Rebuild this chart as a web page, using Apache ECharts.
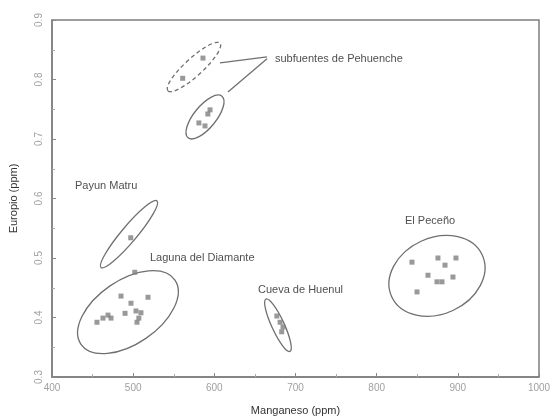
<!DOCTYPE html>
<html>
<head>
<meta charset="utf-8">
<script src="https://cdn.jsdelivr.net/npm/echarts@6/dist/echarts.min.js"></script>
<style>html,body{margin:0;padding:0;background:#fff}#c{width:552px;height:420px}</style>
</head>
<body>
<div id="c"></div>
<script>
// ---- data (Manganeso ppm, Europio ppm) ----
const pehuencheA = [[586, 0.836], [561, 0.802]];
const pehuencheB = [[594.7, 0.749], [592, 0.742], [581, 0.727], [588.5, 0.722]];
const payun = [[497, 0.534]];
const laguna = [[502, 0.476], [455.4, 0.392], [462.8, 0.399], [469, 0.404], [472.7, 0.399], [485, 0.436],
  [497.3, 0.424], [490, 0.407], [503.5, 0.411], [509.6, 0.408], [507, 0.399], [504.7, 0.392], [518.3, 0.434]];
const huenul = [[677, 0.4025], [681, 0.392], [684.6, 0.384], [683, 0.376]];
const peceno = [[843.5, 0.493], [875.5, 0.5], [884.2, 0.488], [897.7, 0.5], [863.2, 0.471],
  [874.3, 0.46], [880.5, 0.46], [894, 0.468], [849.7, 0.443]];

// ellipses: [centerX, centerY, majorEndX, majorEndY, minorEndX, minorEndY]
const ellipseGroups = ['Pehuenche (a)', 'Pehuenche (b)', 'Payun Matru', 'Laguna del Diamante', 'Cueva de Huenul', 'El Peceño'];
const ellipses = [
  [574.9, 0.821, 607, 0.861, 582.3, 0.810],
  [588.5, 0.737, 609.4, 0.772, 598.9, 0.725],
  [494.9, 0.540, 529.4, 0.596, 502.4, 0.532],
  [493.6, 0.409, 551.5, 0.463, 515.8, 0.365],
  [678.4, 0.387, 663.6, 0.431, 685.2, 0.392],
  [874.3, 0.470, 930.1, 0.505, 894.2, 0.412]
];
const calloutA = [[664.9, 0.838], [607, 0.828]];
const calloutB = [[664.9, 0.835], [616.8, 0.779]];

const labelTexts = ['subfuentes de Pehuenche', 'Payun Matru', 'Laguna del Diamante', 'Cueva de Huenul', 'El Peceño'];
const labelAnchors = [[674.7, 0.835], [428.3, 0.621], [520.7, 0.500], [653.8, 0.446], [834.9, 0.562]];

const xTicks = [400, 500, 600, 700, 800, 900, 1000];
const yTicks = [0.3, 0.4, 0.5, 0.6, 0.7, 0.8, 0.9];

const chart = echarts.init(document.getElementById('c'));
const FONT = 'Liberation Sans, Arial, sans-serif';
const pointStyle = { color: '#7f7f7f' };
function pts(name, d) {
  return { name, type: 'scatter', data: d, symbol: 'rect', symbolSize: 5, itemStyle: pointStyle, z: 3 };
}
chart.setOption({
  animation: false,
  grid: { left: 52, right: 13, top: 20, bottom: 43, show: true, borderColor: '#7f7f7f', borderWidth: 1.5,
    containLabel: false, outerBoundsMode: 'none' },
  xAxis: {
    type: 'value', min: xTicks[0], max: xTicks[xTicks.length - 1], interval: 100,
    name: 'Manganeso (ppm)', nameLocation: 'middle', nameGap: 28,
    nameTextStyle: { fontFamily: FONT, fontSize: 11, color: '#333' },
    axisLine: { show: true, lineStyle: { color: '#7f7f7f', width: 1.5 } },
    axisTick: { inside: true, length: 4, lineStyle: { color: '#888' } },
    minorTick: { show: true, splitNumber: 2, length: 3, lineStyle: { color: '#aaa' } },
    axisLabel: { fontFamily: FONT, fontSize: 10, color: '#a0a0a0', margin: 6,
      formatter: v => String(v) },
    splitLine: { show: false }
  },
  yAxis: {
    type: 'value', min: yTicks[0], max: yTicks[yTicks.length - 1], interval: 0.1,
    name: 'Europio (ppm)', nameLocation: 'middle', nameGap: 33,
    nameTextStyle: { fontFamily: FONT, fontSize: 11, color: '#333' },
    axisLine: { show: true, lineStyle: { color: '#7f7f7f', width: 1.5 } },
    axisTick: { inside: true, length: 4, lineStyle: { color: '#888' } },
    minorTick: { show: true, splitNumber: 2, length: 3, lineStyle: { color: '#aaa' } },
    axisLabel: { fontFamily: FONT, fontSize: 10, color: '#a0a0a0', rotate: 90, margin: 8,
      formatter: v => v.toFixed(1) },
    splitLine: { show: false }
  },
  series: [
    {
      name: 'ellipses', type: 'custom', data: ellipses, z: 2,
      renderItem(params, api) {
        const c = api.coord([api.value(0), api.value(1)]);
        const a = api.coord([api.value(2), api.value(3)]);
        const b = api.coord([api.value(4), api.value(5)]);
        const rx = Math.hypot(a[0] - c[0], a[1] - c[1]);
        const ry = Math.hypot(b[0] - c[0], b[1] - c[1]);
        const ang = Math.atan2(a[1] - c[1], a[0] - c[0]);
        return {
          type: 'ellipse', x: c[0], y: c[1], rotation: -ang,
          shape: { cx: 0, cy: 0, rx: rx, ry: ry },
          style: { fill: null, stroke: '#6f6f6f', lineWidth: 1.3,
            lineDash: params.dataIndex === 0 ? [4, 3] : null }
        };
      }
    },
    { type: 'line', data: calloutA, symbol: 'none', lineStyle: { color: '#6f6f6f', width: 1.3 }, z: 2 },
    { type: 'line', data: calloutB, symbol: 'none', lineStyle: { color: '#6f6f6f', width: 1.3 }, z: 2 },
    pts('Pehuenche a', pehuencheA),
    pts('Pehuenche b', pehuencheB),
    pts('Payun Matru', payun),
    pts('Laguna del Diamante', laguna),
    pts('Cueva de Huenul', huenul),
    pts('El Peceño', peceno),
    {
      type: 'scatter', symbolSize: 0, z: 4,
      data: labelAnchors.map((p, i) => ({ value: p, name: labelTexts[i] })),
      label: { show: true, position: 'right', distance: 0, formatter: '{b}',
        fontFamily: FONT, fontSize: 11, color: '#222' }
    }
  ]
});
</script>
</body>
</html>
